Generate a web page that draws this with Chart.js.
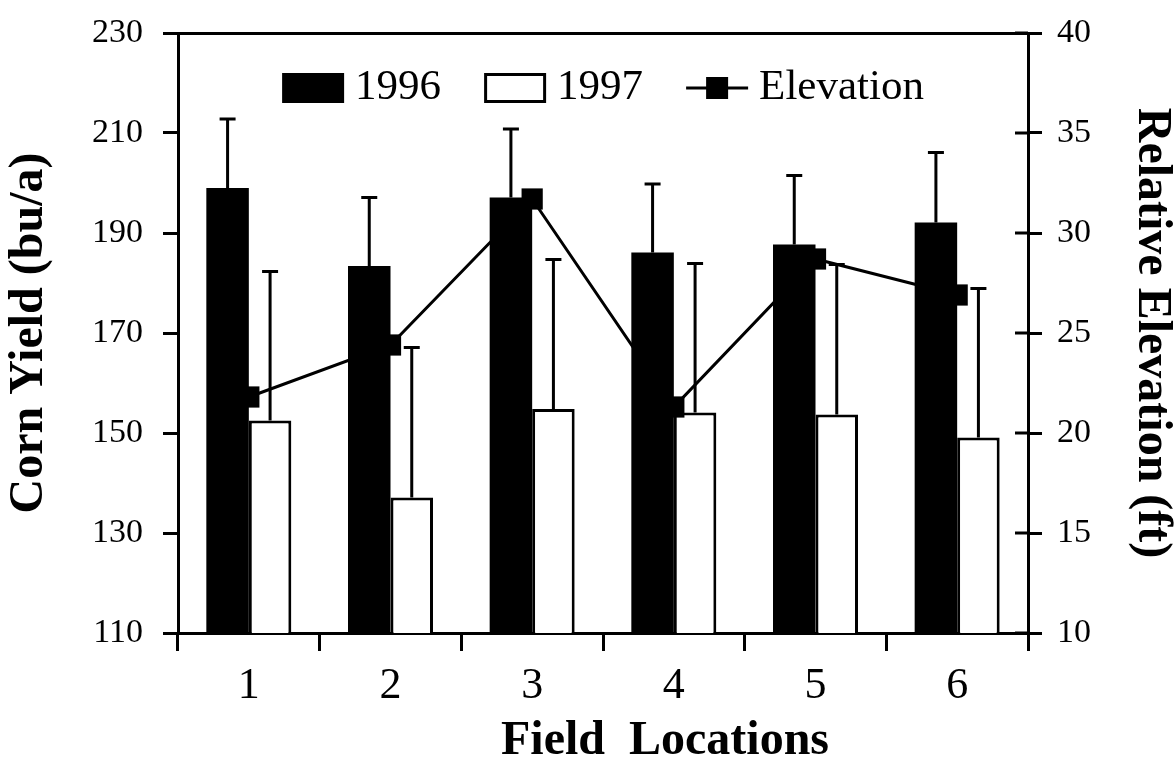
<!DOCTYPE html>
<html>
<head>
<meta charset="utf-8">
<title>Corn Yield and Relative Elevation</title>
<script src="https://cdn.jsdelivr.net/npm/chart.js@4.4.1/dist/chart.umd.min.js"></script>
<style>
  body { margin: 0; background: #fff; }
  canvas { display: block; }
</style>
</head>
<body>
<canvas id="yieldChart" width="1175" height="762"></canvas>
<script>
// field locations along the transect
const locations = ["1", "2", "3", "4", "5", "6"];

// corn yield (bu/a) with the upper error bar length
const yield1996 = [199.0, 183.4, 197.1, 186.1, 187.7, 192.1];
const err1996 = [13.8, 13.7, 13.7, 13.7, 13.8, 14.0];
const yield1997 = [152.5, 137.1, 154.8, 154.1, 153.7, 149.1];
const err1997 = [29.8, 30.0, 29.9, 29.8, 30.0, 29.8];

// relative elevation (ft)
const elevation = [21.8, 24.4, 31.7, 21.3, 28.7, 26.9];

const serif = "'Liberation Serif', 'Times New Roman', serif";

// one-sided error bars on top of each bar
const errorBars = {
    id: "errorBars",
    afterDatasetDraw(chart, args) {
        const ds = chart.data.datasets[args.index];
        if (!ds.errors) return;
        const yScale = chart.scales[ds.yAxisID];
        const ctx = chart.ctx;
        ctx.save();
        ctx.strokeStyle = "#000";
        ctx.lineWidth = 3;
        args.meta.data.forEach((bar, i) => {
            const top = yScale.getPixelForValue(ds.data[i] + ds.errors[i]);
            ctx.beginPath();
            ctx.moveTo(bar.x, bar.y);
            ctx.lineTo(bar.x, top);
            ctx.moveTo(bar.x - 8, top);
            ctx.lineTo(bar.x + 8, top);
            ctx.stroke();
        });
        ctx.restore();
    }
};

// right axis ticks cross the axis line, add the inner half
const innerTicks = {
    id: "innerTicks",
    afterDraw(chart) {
        const s = chart.scales.y2;
        const ctx = chart.ctx;
        ctx.save();
        ctx.strokeStyle = "#000";
        ctx.lineWidth = 3;
        s.ticks.forEach((t, i) => {
            const y = s.getPixelForTick(i);
            ctx.beginPath();
            ctx.moveTo(s.left - 13, y);
            ctx.lineTo(s.left, y);
            ctx.stroke();
        });
        ctx.restore();
    }
};

// legend row drawn inside the plot frame
const insideLegend = {
    id: "insideLegend",
    afterDraw(chart) {
        const { ctx, chartArea } = chart;
        const symW = 62, symH = 30, gap = 11, spacing = 43;
        ctx.save();
        ctx.font = "43px " + serif;
        const items = chart.data.datasets.map(ds => ({ ds: ds, w: ctx.measureText(ds.label).width }));
        const total = items.reduce((acc, it) => acc + symW + gap + it.w, 0) + spacing * (items.length - 1);
        let x = (chartArea.left + chartArea.right) / 2 - total / 2;
        const cy = chartArea.top + 55;

        items.forEach(({ ds, w }) => {
            if (ds.type === "line") {
                ctx.strokeStyle = ds.borderColor;
                ctx.lineWidth = ds.borderWidth;
                ctx.beginPath();
                ctx.moveTo(x, cy);
                ctx.lineTo(x + symW, cy);
                ctx.stroke();
                ctx.fillStyle = ds.pointBackgroundColor;
                ctx.fillRect(x + symW / 2 - 11, cy - 11, 22, 22);
            } else {
                ctx.fillStyle = ds.backgroundColor;
                ctx.fillRect(x, cy - symH / 2, symW, symH);
                if (ds.borderWidth) {
                    ctx.strokeStyle = ds.borderColor;
                    ctx.lineWidth = ds.borderWidth;
                    ctx.strokeRect(x + 1.5, cy - symH / 2 + 1.5, symW - 3, symH - 3);
                }
            }
            ctx.fillStyle = "#000";
            ctx.textAlign = "left";
            ctx.textBaseline = "middle";
            ctx.fillText(ds.label, x + symW + gap, cy);
            x += symW + gap + w + spacing;
        });
        ctx.restore();
    }
};

// x axis title, sits a little right of the plot centre
const xTitle = {
    id: "xTitle",
    afterDraw(chart) {
        const s = chart.scales.x;
        const ctx = chart.ctx;
        ctx.save();
        ctx.font = "bold 48px " + serif;
        ctx.fillStyle = "#000";
        ctx.textAlign = "center";
        ctx.textBaseline = "middle";
        ctx.fillText("Field  Locations", (s.left + s.right) / 2 + 62, s.bottom - 20);
        ctx.restore();
    }
};

// fixed axis widths, no extra room for half labels at the ends
function fixWidth(w) {
    return s => {
        s.width = w;
        s.paddingTop = 0;
        s.paddingBottom = 0;
    };
}

const ctx = document.getElementById("yieldChart").getContext("2d");

new Chart(ctx, {
    type: "bar",
    data: {
        labels: locations,
        datasets: [
            {
                type: "bar",
                label: "1996",
                data: yield1996,
                errors: err1996,
                backgroundColor: "#000",
                borderColor: "#000",
                borderWidth: 0,
                xAxisID: "x",
                yAxisID: "y",
                categoryPercentage: 0.6,
                barPercentage: 1,
                order: 1
            },
            {
                type: "bar",
                label: "1997",
                data: yield1997,
                errors: err1997,
                backgroundColor: "#fff",
                borderColor: "#000",
                borderWidth: 3,
                xAxisID: "x",
                yAxisID: "y",
                categoryPercentage: 0.6,
                barPercentage: 1,
                order: 2
            },
            {
                type: "line",
                label: "Elevation",
                data: elevation,
                xAxisID: "x",
                yAxisID: "y2",
                borderColor: "#000",
                borderWidth: 3,
                tension: 0,
                pointStyle: "rect",
                pointRadius: 15,
                pointBackgroundColor: "#000",
                pointBorderWidth: 0,
                order: 0
            }
        ]
    },
    options: {
        responsive: false,
        devicePixelRatio: 1,
        animation: false,
        layout: { padding: { top: 33, left: 0, right: 0, bottom: 0 } },
        plugins: {
            legend: { display: false },
            tooltip: { enabled: false }
        },
        scales: {
            x: {
                type: "category",
                position: "bottom",
                ticks: { color: "#000", font: { family: serif, size: 44 }, padding: 9 },
                grid: { drawOnChartArea: false, color: "#000", lineWidth: 3, tickLength: 18, offset: true },
                border: { color: "#000", width: 3 },
                afterFit: s => { s.height = 129; }
            },
            xTop: {
                type: "category",
                position: "top",
                ticks: { display: false },
                grid: { display: false, drawTicks: false },
                border: { color: "#000", width: 3 },
                afterFit: s => { s.height = 0; }
            },
            y: {
                position: "left",
                min: 110,
                max: 230,
                ticks: { stepSize: 20, color: "#000", font: { family: serif, size: 34 }, padding: 20 },
                grid: { drawOnChartArea: false, color: "#000", lineWidth: 3, tickLength: 15 },
                border: { color: "#000", width: 3 },
                title: {
                    display: true,
                    text: "Corn Yield (bu/a)",
                    color: "#000",
                    font: { family: serif, size: 48, weight: "bold", lineHeight: 1 },
                    padding: { top: 6, bottom: 0 }
                },
                afterFit: fixWidth(178)
            },
            y2: {
                position: "right",
                min: 10,
                max: 40,
                ticks: { stepSize: 5, color: "#000", font: { family: serif, size: 34 }, padding: 15 },
                grid: { drawOnChartArea: false, color: "#000", lineWidth: 3, tickLength: 14 },
                border: { color: "#000", width: 3 },
                title: {
                    display: true,
                    text: "Relative Elevation (ft)",
                    color: "#000",
                    font: { family: serif, size: 48, weight: "bold", lineHeight: 1 },
                    padding: { top: 0, bottom: 0 }
                },
                afterFit: fixWidth(147)
            }
        }
    },
    plugins: [errorBars, innerTicks, insideLegend, xTitle]
});
</script>
</body>
</html>
